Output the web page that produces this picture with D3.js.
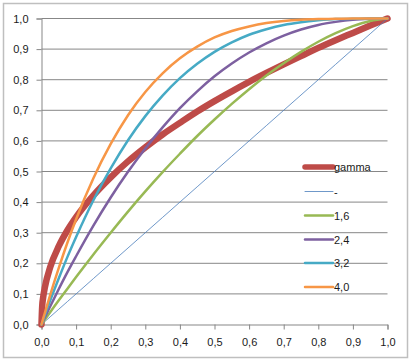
<!DOCTYPE html>
<html><head><meta charset="utf-8">
<script src="https://cdn.jsdelivr.net/npm/d3@7"></script>
<style>body{margin:0;background:#fff}svg{display:block}text{font-family:"Liberation Sans",Arial,sans-serif;font-size:11px;fill:#1a1a1a}</style>
</head><body><svg id="c" width="413" height="360"></svg>
<script>
const xs = [0,0.002,0.005,0.01,0.025,0.05,0.075,0.1,0.15,0.2,0.25,0.3,0.35,0.4,0.45,0.5,0.55,0.6,0.65,0.7,0.75,0.8,0.85,0.9,0.95,1.0];
const gamma = [0,0.059,0.090,0.123,0.187,0.256,0.308,0.351,0.422,0.481,0.533,0.579,0.621,0.659,0.696,0.730,0.762,0.793,0.822,0.850,0.877,0.904,0.929,0.953,0.977,1.0];
const linear = [0,0.002,0.005,0.01,0.025,0.05,0.075,0.1,0.15,0.2,0.25,0.3,0.35,0.4,0.45,0.5,0.55,0.6,0.65,0.7,0.75,0.8,0.85,0.9,0.95,1.0];
const s16 = [0,0.003,0.008,0.016,0.040,0.079,0.117,0.155,0.229,0.300,0.369,0.435,0.498,0.558,0.616,0.670,0.721,0.769,0.814,0.854,0.891,0.924,0.952,0.975,0.992,1.0];
const s24 = [0,0.005,0.012,0.024,0.059,0.116,0.171,0.223,0.323,0.415,0.499,0.575,0.644,0.707,0.762,0.811,0.853,0.889,0.919,0.944,0.964,0.979,0.989,0.996,0.999,1.0];
const s32 = [0,0.006,0.016,0.032,0.078,0.151,0.221,0.286,0.406,0.510,0.602,0.681,0.748,0.805,0.852,0.891,0.922,0.947,0.965,0.979,0.988,0.994,0.998,0.999,1.0,1.0];
const s40 = [0,0.008,0.020,0.039,0.096,0.185,0.268,0.344,0.478,0.590,0.684,0.760,0.821,0.870,0.908,0.938,0.959,0.974,0.985,0.992,0.996,0.998,0.999,1.0,1.0,1.0];
const seriesNames = ["gamma","-","1,6","2,4","3,2","4,0"];
const seriesData = [gamma, linear, s16, s24, s32, s40];
const colors = ["#BE4B48","#4A7EBB","#98B954","#7D60A0","#46AAC5","#F79646"];
const widths = [6.5,0.8,2.5,2.5,2.5,2.5];
const ticks = [0,0.1,0.2,0.3,0.4,0.5,0.6,0.7,0.8,0.9,1.0];
const fmt = d => d3.format(".1f")(d).replace(".", ",");

const svg = d3.select("#c");
svg.append("rect").attr("x",3.5).attr("y",3.5).attr("width",404).attr("height",354)
  .attr("fill","#fff").attr("stroke","#BFBFBF").attr("stroke-width",1.5);

const x = d3.scaleLinear().domain([0,1]).range([41.5,387.5]);
const y = d3.scaleLinear().domain([0,1]).range([324.5,18.5]);

svg.append("g").selectAll("line").data(ticks.slice(1)).join("line")
  .attr("x1",x(0)).attr("x2",x(1)).attr("y1",d=>y(d)).attr("y2",d=>y(d))
  .attr("stroke","#878787").attr("stroke-width",1);

const yAxis = svg.append("g").attr("transform",`translate(${x(0)},0)`)
  .call(d3.axisLeft(y).tickValues(ticks).tickFormat(fmt).tickSize(5).tickPadding(8));
const xAxis = svg.append("g").attr("transform",`translate(0,${y(0)})`)
  .call(d3.axisBottom(x).tickValues(ticks).tickFormat(fmt).tickSize(5).tickPadding(9));
[yAxis,xAxis].forEach(a=>{
  a.select(".domain").attr("stroke","#878787");
  a.selectAll(".tick line").attr("stroke","#878787");
  a.selectAll("text").attr("font-family",'"Liberation Sans",Arial,sans-serif').attr("font-size",11).attr("fill","#1a1a1a");
});

const line = d3.line().x((d,i)=>x(xs[i])).y(d=>y(d)).curve(d3.curveMonotoneX);
const drawOrder = [0,1,2,3,4,5];
svg.append("g").selectAll("path").data(drawOrder).join("path")
  .attr("d",i=>line(seriesData[i])).attr("fill","none")
  .attr("stroke",i=>colors[i]).attr("stroke-width",i=>widths[i])
  .attr("stroke-linecap","round").attr("stroke-linejoin","round");

const lg = svg.append("g");
const ly = [167,191.5,215.5,239.5,263,287];
seriesNames.forEach((n,i)=>{
  lg.append("line").attr("x1",305).attr("x2",333).attr("y1",ly[i]).attr("y2",ly[i])
    .attr("stroke",colors[i]).attr("stroke-width",i===0?5.5:(i===1?0.8:2.5)).attr("stroke-linecap","round");
  lg.append("text").attr("x",334).attr("y",ly[i]+4).text(n);
});
</script></body></html>
